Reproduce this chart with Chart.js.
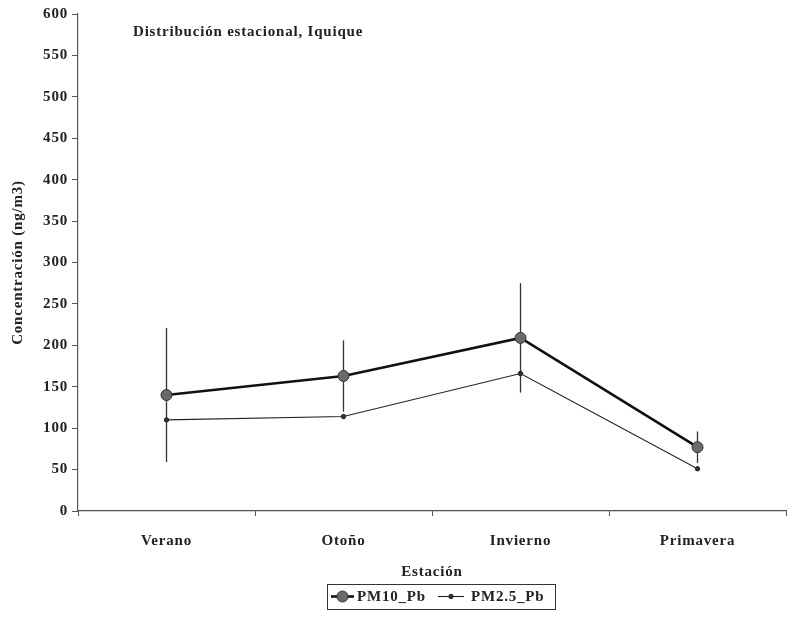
<!DOCTYPE html>
<html>
<head>
<meta charset="utf-8">
<script src="https://cdn.jsdelivr.net/npm/chart.js@4.4.1/dist/chart.umd.min.js"></script>
<style>
  html, body { margin: 0; padding: 0; background: #fff; }
  #c { display: block; }
</style>
</head>
<body>
<canvas id="c" width="793" height="621"></canvas>
<script>
// Seasonal lead concentrations, Iquique
const seasons = ['Verano', 'Otoño', 'Invierno', 'Primavera'];
const pm10 = [140, 163, 209, 77];
const pm10Err = [81, 43, 66, 19];
const pm25 = [110, 114, 166, 51];
const yMin = 0, yMax = 600, yStep = 50;

const serif = "'Liberation Serif', 'Times New Roman', serif";
const ink = '#222';
const fontSize = 15;
const tracking = '0.8px';

// Slightly open letter spacing for every text drawn on the canvas
const letterSpacing = {
  id: 'letterSpacing',
  beforeLayout(chart) { chart.ctx.letterSpacing = tracking; },
  beforeDraw(chart) { chart.ctx.letterSpacing = tracking; }
};

// Vertical error bars for the PM10 series
const errorBars = {
  id: 'errorBars',
  beforeDatasetsDraw(chart) {
    const { ctx, scales: { x, y } } = chart;
    ctx.save();
    ctx.strokeStyle = '#333';
    ctx.lineWidth = 1.3;
    pm10.forEach((v, i) => {
      const px = x.getPixelForValue(i);
      ctx.beginPath();
      ctx.moveTo(px, y.getPixelForValue(v + pm10Err[i]));
      ctx.lineTo(px, y.getPixelForValue(v - pm10Err[i]));
      ctx.stroke();
    });
    ctx.restore();
  }
};

// Heading inside the plot area
const heading = {
  id: 'heading',
  afterDraw(chart) {
    const { ctx } = chart;
    ctx.save();
    ctx.font = `bold ${fontSize}px ${serif}`;
    ctx.letterSpacing = tracking;
    ctx.fillStyle = ink;
    ctx.textBaseline = 'middle';
    ctx.fillText('Distribución estacional, Iquique', 133, 32);
    ctx.restore();
  }
};

// Boxed legend with line + marker samples
const boxLegend = {
  id: 'boxLegend',
  afterDraw(chart) {
    const { ctx } = chart;
    const ds = chart.data.datasets;
    const left = 327, top = 584, w = 228, h = 25;
    const cy = top + h / 2;
    ctx.save();
    ctx.strokeStyle = '#333';
    ctx.lineWidth = 1;
    ctx.strokeRect(left + 0.5, top + 0.5, w, h);
    ctx.font = `bold ${fontSize}px ${serif}`;
    ctx.letterSpacing = tracking;
    ctx.textBaseline = 'middle';
    ctx.fillStyle = ink;
    const items = [
      { d: ds[0], x0: 331, x1: 354, tx: 357 },
      { d: ds[1], x0: 438, x1: 464, tx: 471 }
    ];
    items.forEach(it => {
      ctx.strokeStyle = it.d.borderColor;
      ctx.lineWidth = it.d.borderWidth;
      ctx.beginPath();
      ctx.moveTo(it.x0, cy);
      ctx.lineTo(it.x1, cy);
      ctx.stroke();
      ctx.beginPath();
      ctx.arc((it.x0 + it.x1) / 2, cy, it.d.pointRadius, 0, Math.PI * 2);
      ctx.fillStyle = it.d.pointBackgroundColor;
      ctx.fill();
      ctx.lineWidth = it.d.pointBorderWidth;
      ctx.strokeStyle = it.d.pointBorderColor;
      ctx.stroke();
      ctx.fillStyle = ink;
      ctx.fillText(it.d.label, it.tx, cy + 1);
    });
    ctx.restore();
  }
};

const labelFont = { family: serif, size: fontSize, weight: 'bold' };

new Chart(document.getElementById('c'), {
  type: 'line',
  data: {
    labels: seasons,
    datasets: [
      {
        label: 'PM10_Pb',
        data: pm10,
        borderColor: '#111',
        borderWidth: 2.6,
        pointRadius: 5.5,
        pointBackgroundColor: '#6a6a6a',
        pointBorderColor: '#333',
        pointBorderWidth: 1,
        tension: 0
      },
      {
        label: 'PM2.5_Pb',
        data: pm25,
        borderColor: '#222',
        borderWidth: 1.1,
        pointRadius: 2.2,
        pointBackgroundColor: '#333',
        pointBorderColor: '#222',
        pointBorderWidth: 1,
        tension: 0
      }
    ]
  },
  options: {
    responsive: false,
    animation: false,
    devicePixelRatio: 1,
    layout: { padding: { top: 14, right: 7, bottom: 40, left: 0 } },
    plugins: {
      legend: { display: false },
      tooltip: { enabled: false }
    },
    scales: {
      x: {
        offset: true,
        grid: {
          offset: true,
          drawOnChartArea: false,
          drawTicks: true,
          tickLength: 5,
          color: '#555',
          lineWidth: 1
        },
        border: { color: '#555', width: 1.2 },
        ticks: {
          color: ink,
          font: labelFont,
          padding: 16,
          maxRotation: 0
        },
        title: {
          display: true,
          text: 'Estación',
          color: ink,
          font: labelFont,
          padding: { top: 0, bottom: 0 }
        },
        afterFit(scale) { scale.height = 70; }
      },
      y: {
        min: yMin,
        max: yMax,
        grid: {
          drawOnChartArea: false,
          drawTicks: true,
          tickLength: 6,
          color: '#555',
          lineWidth: 1
        },
        border: { color: '#555', width: 1.2 },
        ticks: {
          stepSize: yStep,
          color: ink,
          font: labelFont,
          padding: 4
        },
        title: {
          display: true,
          text: 'Concentración (ng/m3)',
          color: ink,
          font: labelFont,
          padding: { top: 9, bottom: 0 }
        },
        afterFit(scale) { scale.width = 78; }
      }
    }
  },
  plugins: [letterSpacing, errorBars, heading, boxLegend]
});
</script>
</body>
</html>
